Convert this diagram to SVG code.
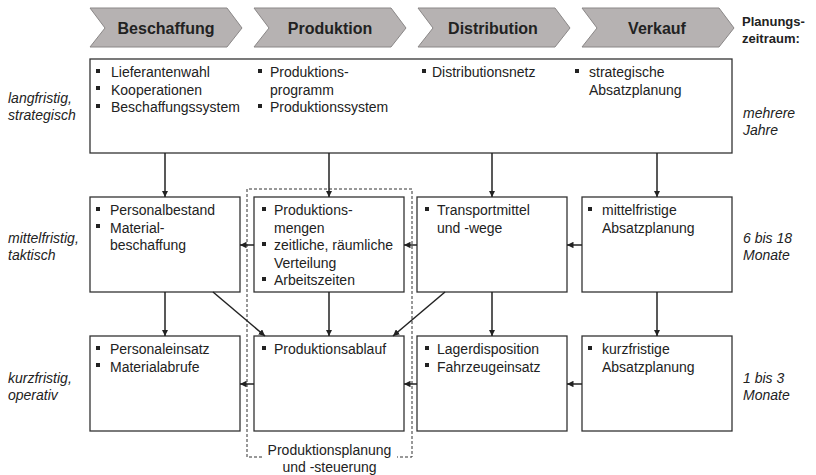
<svg xmlns="http://www.w3.org/2000/svg" width="816" height="475" viewBox="0 0 816 475">
  <style>
    text { font-family: "Liberation Sans", Arial, sans-serif; fill: #222; }
    .head { font-size: 16px; font-weight: bold; text-anchor: middle; }
    .hdr { font-size: 13px; font-weight: bold; }
    .item { font-size: 14px; }
    .lvl { font-size: 14px; font-style: italic; }
    .chev { fill: #b6b2b2; stroke: #8a8787; stroke-width: 1; }
    .box { fill: #fff; stroke: #333; stroke-width: 1.3; }
    .bul { fill: #222; }
    .conn { stroke: #222; stroke-width: 1.5; fill: none; marker-end: url(#arr); }
    .group { fill: none; stroke: #333; stroke-width: 1; stroke-dasharray: 3 2; }
    .cap { font-size: 14px; text-anchor: middle; }
  </style>
  <defs>
    <marker id="arr" viewBox="0 0 10 10" refX="10" refY="5" markerWidth="6.5" markerHeight="6.5" markerUnits="userSpaceOnUse" orient="auto">
      <path d="M0,0 L10,5 L0,10 z" fill="#222"/>
    </marker>
    <rect id="b" width="4" height="4" class="bul"/>
  </defs>

  <!-- process chevrons -->
  <g id="chevron-beschaffung">
    <polygon class="chev" points="90,8 227,8 242,28 227,47 90,47 105,28"/>
    <text class="head" x="166" y="34">Beschaffung</text>
  </g>
  <g id="chevron-produktion">
    <polygon class="chev" points="254,8 391,8 406,28 391,47 254,47 269,28"/>
    <text class="head" x="330" y="34">Produktion</text>
  </g>
  <g id="chevron-distribution">
    <polygon class="chev" points="418,8 555,8 570,28 555,47 418,47 433,28"/>
    <text class="head" x="493" y="34">Distribution</text>
  </g>
  <g id="chevron-verkauf">
    <polygon class="chev" points="582,8 719,8 734,28 719,47 582,47 597,28"/>
    <text class="head" x="657" y="34">Verkauf</text>
  </g>
  <g id="planungszeitraum">
    <text class="hdr" x="742" y="26">Planungs-</text>
    <text class="hdr" x="742" y="43">zeitraum:</text>
  </g>

  <!-- planning horizon labels -->
  <g id="levels-left">
    <text class="lvl" x="8" y="103">langfristig,</text>
    <text class="lvl" x="8" y="120">strategisch</text>
    <text class="lvl" x="8" y="243">mittelfristig,</text>
    <text class="lvl" x="8" y="260">taktisch</text>
    <text class="lvl" x="8" y="383">kurzfristig,</text>
    <text class="lvl" x="8" y="400">operativ</text>
  </g>
  <g id="levels-right">
    <text class="lvl" x="743" y="118">mehrere</text>
    <text class="lvl" x="743" y="135">Jahre</text>
    <text class="lvl" x="743" y="243">6 bis 18</text>
    <text class="lvl" x="743" y="260">Monate</text>
    <text class="lvl" x="743" y="383">1 bis 3</text>
    <text class="lvl" x="743" y="400">Monate</text>
  </g>

  <!-- strategic level -->
  <g id="strategisch">
    <rect class="box" x="90" y="59" width="642" height="94"/>
    <use href="#b" x="96" y="69"/><text class="item" x="111" y="77">Lieferantenwahl</text>
    <use href="#b" x="96" y="86"/><text class="item" x="111" y="94.5">Kooperationen</text>
    <use href="#b" x="96" y="104"/><text class="item" x="111" y="112">Beschaffungssystem</text>
    <use href="#b" x="258" y="69"/><text class="item" x="270" y="77">Produktions-</text>
    <text class="item" x="270" y="94.5">programm</text>
    <use href="#b" x="258" y="104"/><text class="item" x="270" y="112">Produktionssystem</text>
    <use href="#b" x="422" y="69"/><text class="item" x="432" y="77">Distributionsnetz</text>
    <use href="#b" x="575" y="69"/><text class="item" x="589" y="77">strategische</text>
    <text class="item" x="589" y="94.5">Absatzplanung</text>
  </g>

  <!-- tactical level -->
  <g id="m-beschaffung">
    <rect class="box" x="90" y="197" width="150" height="95"/>
    <use href="#b" x="96" y="207"/><text class="item" x="110" y="215">Personalbestand</text>
    <use href="#b" x="96" y="224"/><text class="item" x="110" y="232.5">Material-</text>
    <text class="item" x="110" y="250">beschaffung</text>
  </g>
  <g id="m-produktion">
    <rect class="box" x="254" y="197" width="150" height="95"/>
    <use href="#b" x="262" y="207"/><text class="item" x="274" y="215">Produktions-</text>
    <text class="item" x="274" y="232.5">mengen</text>
    <use href="#b" x="262" y="242"/><text class="item" x="274" y="250">zeitliche, räumliche</text>
    <text class="item" x="274" y="267.5">Verteilung</text>
    <use href="#b" x="262" y="277"/><text class="item" x="274" y="285">Arbeitszeiten</text>
  </g>
  <g id="m-distribution">
    <rect class="box" x="417" y="197" width="150" height="95"/>
    <use href="#b" x="425" y="207"/><text class="item" x="437" y="215">Transportmittel</text>
    <text class="item" x="437" y="232.5">und -wege</text>
  </g>
  <g id="m-verkauf">
    <rect class="box" x="582" y="197" width="150" height="95"/>
    <use href="#b" x="588" y="207"/><text class="item" x="602" y="215">mittelfristige</text>
    <text class="item" x="602" y="232.5">Absatzplanung</text>
  </g>

  <!-- operational level -->
  <g id="k-beschaffung">
    <rect class="box" x="90" y="336" width="150" height="95"/>
    <use href="#b" x="96" y="346"/><text class="item" x="110" y="354">Personaleinsatz</text>
    <use href="#b" x="96" y="363"/><text class="item" x="110" y="371.5">Materialabrufe</text>
  </g>
  <g id="k-produktion">
    <rect class="box" x="254" y="336" width="150" height="95"/>
    <use href="#b" x="262" y="346"/><text class="item" x="274" y="354">Produktionsablauf</text>
  </g>
  <g id="k-distribution">
    <rect class="box" x="417" y="336" width="150" height="95"/>
    <use href="#b" x="425" y="346"/><text class="item" x="437" y="354">Lagerdisposition</text>
    <use href="#b" x="425" y="363"/><text class="item" x="437" y="371.5">Fahrzeugeinsatz</text>
  </g>
  <g id="k-verkauf">
    <rect class="box" x="582" y="336" width="150" height="95"/>
    <use href="#b" x="588" y="346"/><text class="item" x="602" y="354">kurzfristige</text>
    <text class="item" x="602" y="371.5">Absatzplanung</text>
  </g>

  <!-- production planning and control frame -->
  <g id="pps">
    <path class="group" d="M262,457 H247 V189 H412 V457 H397"/>
    <text class="cap" x="329.5" y="455">Produktionsplanung</text>
    <text class="cap" x="329.5" y="472">und -steuerung</text>
  </g>

  <!-- connectors -->
  <g id="connectors">
    <line class="conn" x1="165" y1="153" x2="165" y2="197"/>
    <line class="conn" x1="329" y1="153" x2="329" y2="197"/>
    <line class="conn" x1="492" y1="153" x2="492" y2="197"/>
    <line class="conn" x1="657" y1="153" x2="657" y2="197"/>

    <line class="conn" x1="165" y1="292" x2="165" y2="336"/>
    <line class="conn" x1="329" y1="292" x2="329" y2="336"/>
    <line class="conn" x1="492" y1="292" x2="492" y2="336"/>
    <line class="conn" x1="657" y1="292" x2="657" y2="336"/>

    <line class="conn" x1="213" y1="292" x2="265" y2="336"/>
    <line class="conn" x1="445" y1="292" x2="393" y2="336"/>

    <line class="conn" x1="582" y1="245" x2="567" y2="245"/>
    <line class="conn" x1="417" y1="245" x2="404" y2="245"/>
    <line class="conn" x1="254" y1="245" x2="240" y2="245"/>

    <line class="conn" x1="582" y1="384" x2="567" y2="384"/>
    <line class="conn" x1="417" y1="384" x2="404" y2="384"/>
    <line class="conn" x1="254" y1="384" x2="240" y2="384"/>
  </g>
</svg>
